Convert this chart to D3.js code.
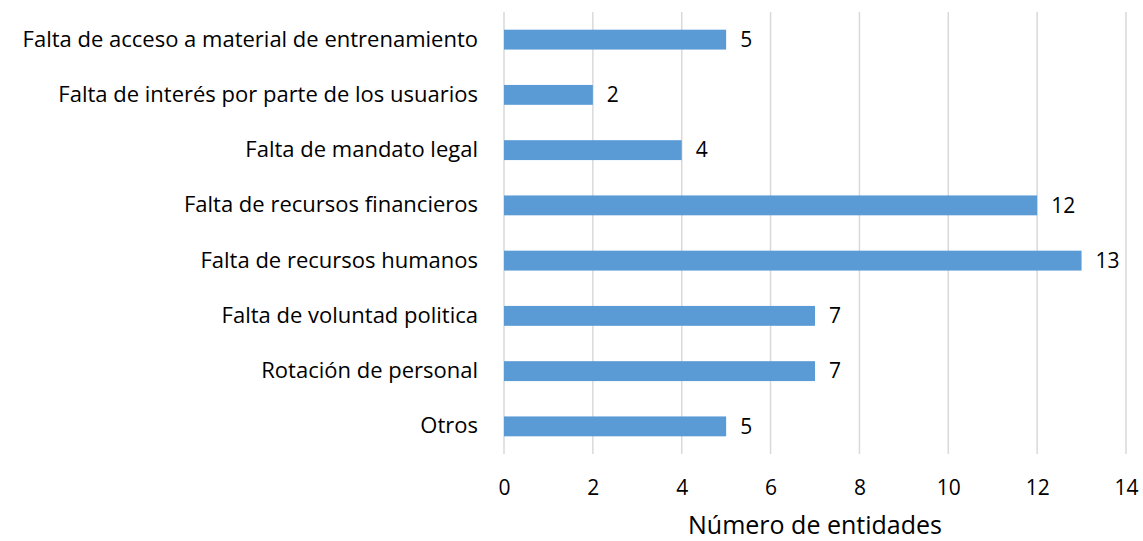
<!DOCTYPE html>
<html>
<head>
<meta charset="utf-8">
<script src="https://cdn.jsdelivr.net/npm/d3@7"></script>
<style>
  body { margin: 0; background: #fff; }
  text { font-family: "Open Sans", sans-serif; fill: #000; }
</style>
</head>
<body>
<svg></svg>
<script>
// data
const categories = [
  "Falta de acceso a material de entrenamiento",
  "Falta de interés por parte de los usuarios",
  "Falta de mandato legal",
  "Falta de recursos financieros",
  "Falta de recursos humanos",
  "Falta de voluntad politica",
  "Rotación de personal",
  "Otros"
];
const values = [5, 2, 4, 12, 13, 7, 7, 5];
const xTicks = [0, 2, 4, 6, 8, 10, 12, 14];
const xTitle = "Número de entidades";

let margin = { top: 12, right: 17, bottom: 87, left: 504 };
let width = 1143 - margin.left - margin.right,
    height = 541 - margin.top - margin.bottom;

let svg = d3.select('svg')
  .attr('width', 1143)
  .attr('height', 541)
.append('g')
  .attr('transform', `translate(${margin.left},${margin.top})`);

let xScale = d3.scaleLinear()
  .domain([0, 14])
  .range([0, width]);

let yScale = d3.scaleBand()
  .domain(categories)
  .range([0, height])
  .paddingInner(0.64)
  .paddingOuter(0.32);

// gridlines
svg.append('g')
  .selectAll('line')
  .data(xTicks)
  .enter()
  .append('line')
    .attr('x1', d => xScale(d))
    .attr('x2', d => xScale(d))
    .attr('y1', 0)
    .attr('y2', height)
    .style('stroke', '#d9d9d9')
    .style('stroke-width', 1.5);

// x tick labels
let xAxis = svg.append('g')
  .attr('transform', `translate(0,${height})`)
  .call(d3.axisBottom(xScale).tickValues(xTicks).tickSize(0).tickPadding(26));
xAxis.select('.domain').remove();
xAxis.selectAll('text')
  .style('font-size', '21px')
  .style('font-family', '"Open Sans", sans-serif')
  .attr('fill', '#000');

// y labels
let yAxis = svg.append('g')
  .call(d3.axisLeft(yScale).tickSize(0).tickPadding(26));
yAxis.select('.domain').remove();
yAxis.selectAll('text')
  .style('font-size', '22px')
  .style('font-family', '"Open Sans", sans-serif')
  .attr('fill', '#000');

// bars
svg.append('g')
  .selectAll('rect')
  .data(values)
  .enter()
  .append('rect')
    .attr('x', xScale(0))
    .attr('y', (d, i) => yScale(categories[i]))
    .attr('width', d => xScale(d) - xScale(0))
    .attr('height', yScale.bandwidth())
    .style('fill', '#5b9bd5');

// value labels
svg.append('g')
  .selectAll('text')
  .data(values)
  .enter()
  .append('text')
    .attr('x', d => xScale(d) + 14)
    .attr('y', (d, i) => yScale(categories[i]) + yScale.bandwidth() / 2)
    .attr('dy', '0.35em')
    .style('font-size', '21px')
    .text(d => d);

// axis title
svg.append('text')
  .attr('x', width / 2)
  .attr('y', height + 80)
  .attr('text-anchor', 'middle')
  .style('font-size', '25px')
  .text(xTitle);
</script>
</body>
</html>
